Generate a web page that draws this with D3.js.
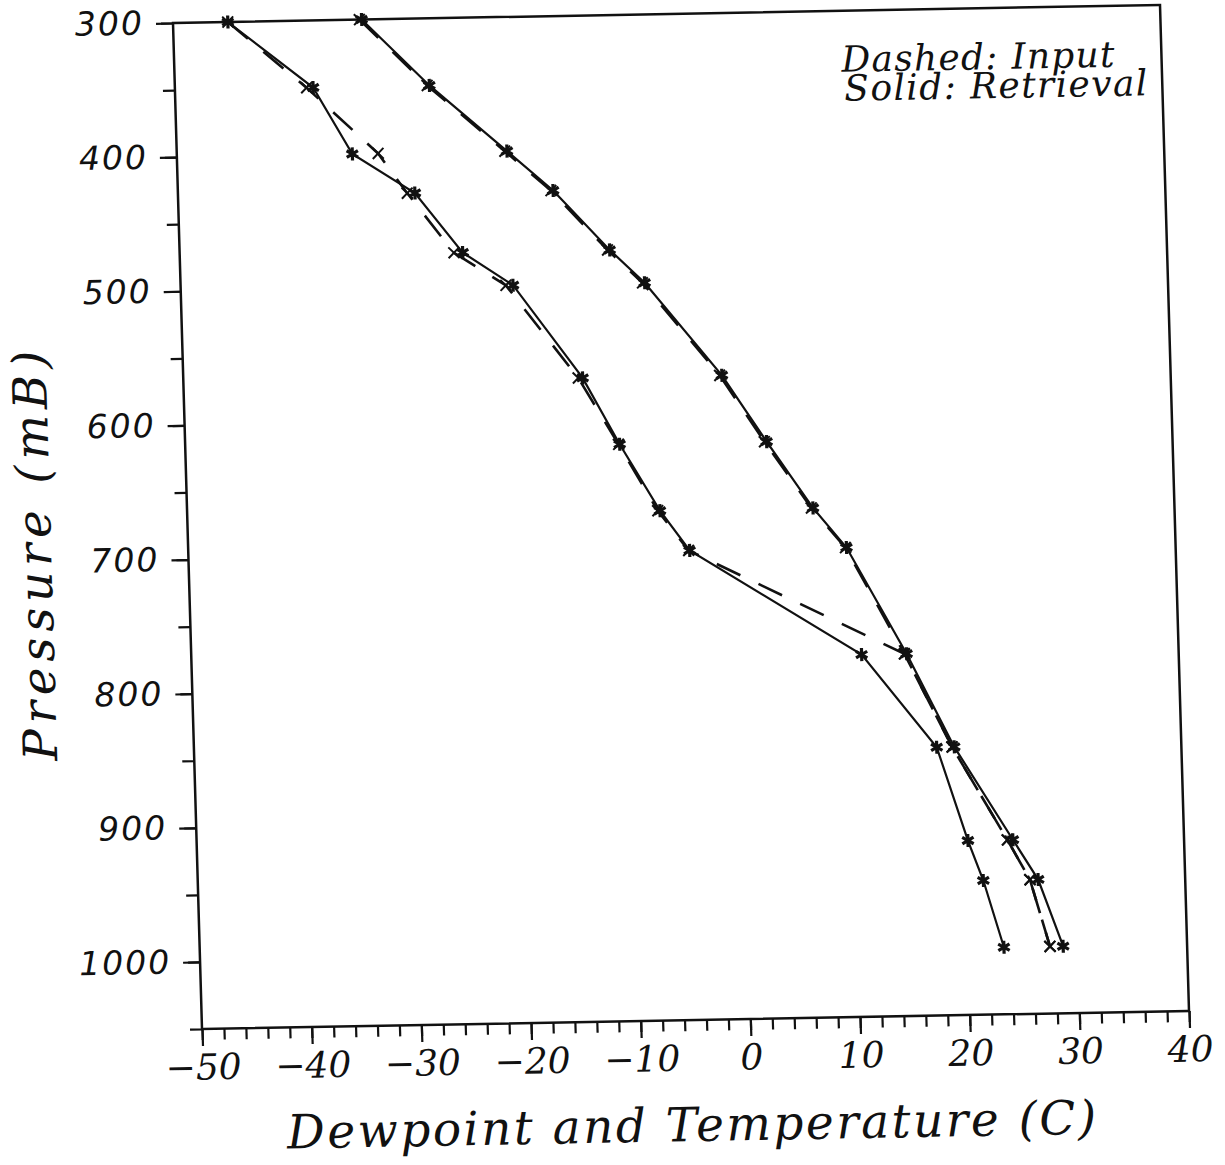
<!DOCTYPE html>
<html>
<head>
<meta charset="utf-8">
<script src="https://cdn.jsdelivr.net/npm/d3@7"></script>
<style>
    body { margin: 0; background: #fff; }
    text { fill: #111; }
</style>
</head>
<body>
<svg id="svg" width="1225" height="1165"></svg>
<script>
// pressure levels (mB) and the four profiles (deg C)
const pressures = [300, 350, 400, 430, 475, 500, 570, 620, 670, 700, 780, 850, 920, 950, 1000];
const tempRetrieval = [-32.8, -26.8, -19.9, -15.8, -10.8, -7.7, -0.9, 3.0, 7.05, 10.0, 15.2, 19.3, 24.4, 26.6, 28.7];
const tempInput = [-33.0, -27.0, -20.1, -16.0, -11.0, -7.9, -1.1, 2.8, 6.9, 9.9, 15.0, 19.1, 23.9, 25.85, 27.5];
const dewRetrieval = [-45.0, -37.4, -34.0, -28.4, -24.2, -19.7, -13.6, -10.4, -6.9, -4.3, 11.1, 17.7, 20.3, 21.6, 23.3];
const dewInput = [-45.0, -38.0, -31.65, -29.1, -25.0, -20.35, -14.0, -10.5, -7.1, -4.4, 15.0, 19.1, 23.9, 25.85, 27.5];

const xMajor = d3.range(-50, 41, 10);
const xMinor = d3.range(-50, 41, 2);
const yMajor = d3.range(300, 1001, 100);
const yMinor = d3.range(300, 1051, 50);

const legendLines = ["Dashed: Input", "Solid: Retrieval"];

const plotW = 987,
    plotH = 1006;

const svg = d3.select("#svg");

// the scanned page sits slightly skewed, so the whole plot is too
const g = svg.append("g")
    .attr("transform", "matrix(1,-0.01824,0.02883,1,173,23)");

const x = d3.scaleLinear().domain([-50, 40]).range([0, plotW]);
const y = d3.scaleLinear().domain([300, 1050]).range([0, plotH]);

const serif = "'DejaVu Serif', 'Liberation Serif', serif";

// ---- axes ----
g.append("g")
    .attr("transform", `translate(0,${plotH})`)
    .call(d3.axisBottom(x).tickValues(xMinor).tickSize(11).tickFormat(""))
    .call(a => a.select(".domain").remove());

g.append("g")
    .attr("transform", `translate(0,${plotH})`)
    .call(d3.axisBottom(x).tickValues(xMajor).tickSize(17).tickPadding(8)
        .tickFormat(d => d < 0 ? "\u2212" + Math.abs(d) : d))
    .call(a => a.select(".domain").remove())
    .call(a => a.selectAll("text")
        .attr("font-family", serif)
        .attr("font-style", "italic")
        .attr("font-size", 36));

g.append("g")
    .call(d3.axisLeft(y).tickValues(yMinor).tickSize(12).tickFormat(""))
    .call(a => a.select(".domain").remove());

g.append("g")
    .call(d3.axisLeft(y).tickValues(yMajor).tickSize(17).tickPadding(12).tickFormat(d3.format("d")))
    .call(a => a.select(".domain").remove())
    .call(a => a.selectAll("text")
        .attr("font-family", "'DejaVu Sans', sans-serif")
        .attr("font-style", "italic")
        .attr("font-size", 33)
        .attr("letter-spacing", 2));

g.selectAll(".tick line")
    .attr("stroke", "#111")
    .attr("stroke-width", 2.2);

// frame
g.append("rect")
    .attr("width", plotW)
    .attr("height", plotH)
    .attr("fill", "none")
    .attr("stroke", "#111")
    .attr("stroke-width", 2.5);

// ---- profiles ----
const line = d3.line()
    .x(d => x(d.t))
    .y(d => y(d.p));

const series = [
    { values: tempInput, dashed: true },
    { values: dewInput, dashed: true },
    { values: tempRetrieval, dashed: false },
    { values: dewRetrieval, dashed: false }
].map(s => Object.assign(s, {
    points: s.values.map((t, i) => ({ t: t, p: pressures[i] }))
}));

g.append("g")
    .selectAll("path")
    .data(series)
    .join("path")
    .attr("d", d => line(d.points))
    .attr("fill", "none")
    .attr("stroke", "#111")
    .attr("stroke-width", d => d.dashed ? 2.6 : 2.2)
    .attr("stroke-dasharray", d => d.dashed ? "26,20" : null);

const crossMark = d3.symbol(d3.symbolTimes, 80);
const starMark = d3.symbol(d3.symbolAsterisk, 120);

series.forEach(s => {
    g.append("g")
        .selectAll("path")
        .data(s.points)
        .join("path")
        .attr("transform", d => `translate(${x(d.t)},${y(d.p)})`)
        .attr("d", s.dashed ? crossMark : starMark)
        .attr("fill", "none")
        .attr("stroke", "#111")
        .attr("stroke-width", s.dashed ? 2 : 3.2);
});

// ---- titles & legend ----
g.append("text")
    .attr("x", 82)
    .attr("y", 1127)
    .attr("font-family", serif)
    .attr("font-style", "italic")
    .attr("font-size", 47)
    .attr("textLength", 809)
    .attr("lengthAdjust", "spacing")
    .text("Dewpoint and Temperature (C)");

g.append("text")
    .attr("transform", "translate(-137,530) rotate(-90)")
    .attr("text-anchor", "middle")
    .attr("font-family", serif)
    .attr("font-style", "italic")
    .attr("font-size", 47)
    .attr("textLength", 410)
    .attr("lengthAdjust", "spacing")
    .text("Pressure (mB)");

g.append("g")
    .selectAll("text")
    .data(legendLines)
    .join("text")
    .attr("x", (d, i) => i ? 669 : 667)
    .attr("y", (d, i) => i ? 90 : 61)
    .attr("font-family", serif)
    .attr("font-style", "italic")
    .attr("font-size", 36)
    .attr("textLength", (d, i) => i ? 303 : 273)
    .attr("lengthAdjust", "spacing")
    .text(d => d);
</script>
</body>
</html>
